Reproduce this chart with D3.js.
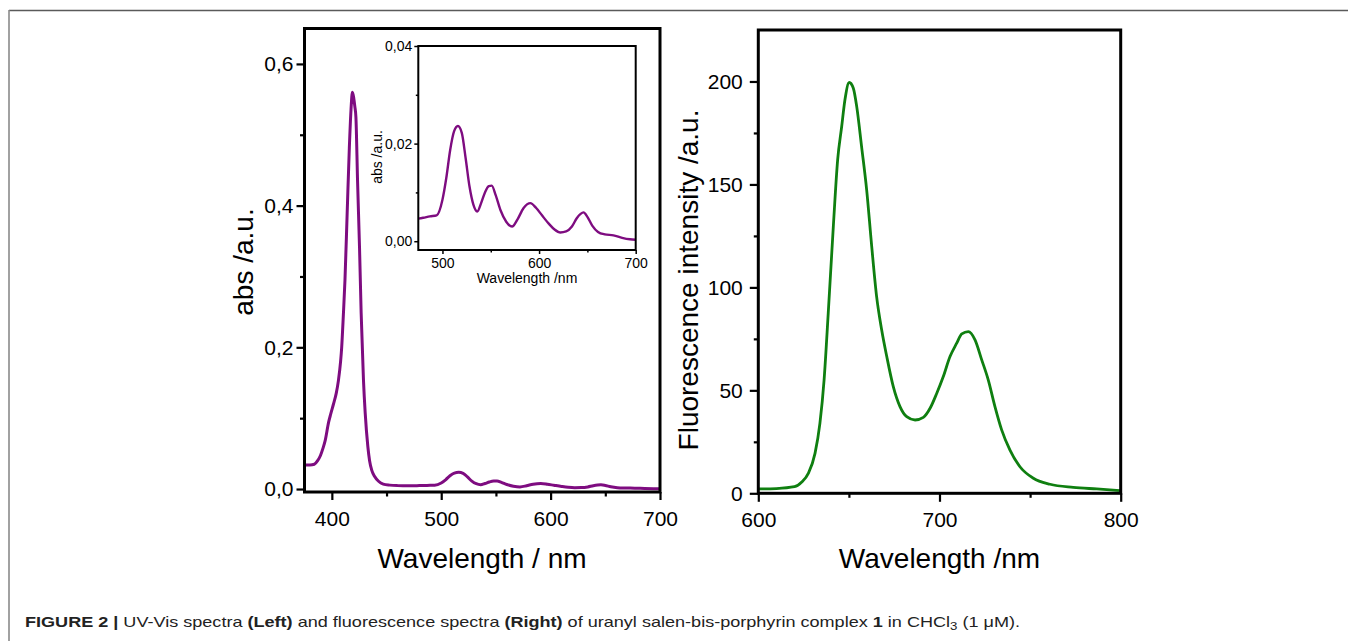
<!DOCTYPE html>
<html><head><meta charset="utf-8">
<script src="https://cdn.jsdelivr.net/npm/d3@7/dist/d3.min.js"></script>
<style>
body{margin:0;background:#fff;}
svg{display:block;font-family:"Liberation Sans",Arial,Helvetica,sans-serif;}
</style>
</head><body>
<svg id="c" width="1348" height="641"></svg>
<script>
// ---------- data ----------
const uvNm  = [375,380,384,387,389.5,392,394,397,399,401.5,404,406,408,409,410.5,412,414,416,417.5,418.8,420,421,422,423.5,425.3,426.8,428.9,430.5,432.9,434.5,436.6,439,442.7,447,453,460,470,480,487,494,500,504,508,512,516,520,524,528,532,536,540,544,548,551,555,560,566,572,578,584,591,597,603,610,616,622,628,634,639,643,646,650,655,661,668,677,686,694,700];
const uvAbs = [0.034,0.034,0.035,0.040,0.047,0.058,0.069,0.094,0.106,0.120,0.135,0.153,0.180,0.200,0.245,0.295,0.389,0.482,0.535,0.560,0.552,0.540,0.525,0.435,0.341,0.248,0.154,0.107,0.060,0.040,0.026,0.018,0.011,0.007,0.0055,0.0048,0.0045,0.0048,0.0051,0.0053,0.0085,0.013,0.0187,0.0225,0.0236,0.0222,0.017,0.0112,0.0075,0.0061,0.0078,0.0100,0.0113,0.0114,0.0095,0.0064,0.0040,0.0030,0.0046,0.0068,0.0078,0.0068,0.0053,0.0036,0.0024,0.0018,0.0020,0.0030,0.0047,0.0056,0.0059,0.0050,0.0032,0.0019,0.0014,0.0012,0.0007,0.0004,0.0003];

const flNm  = [600,610,620,624,627.6,631.3,634,636.3,638.6,641.4,643.8,646,647.8,650.2,652.4,654.3,657,659.8,662.6,665.3,668.1,670.9,674.5,678.2,681.9,686.5,691.1,694.8,698.5,702.1,705.8,709.5,712.3,715.9,719.6,723.3,726.9,730.6,734.3,738.9,744.4,751.8,761,773.8,786.8,800];
const flInt = [2.1,2.3,3.2,5.5,9.7,19.4,34,55,87.5,129.5,162,178,191,199.5,196.8,187.9,168.4,147.4,119.8,95.5,79.3,66.4,51.8,42.1,37.2,35.6,36.9,41.3,48.6,56.7,66.4,72.9,77.4,78.5,74.5,64.8,55.1,42.1,30.8,21.0,12.9,7.3,4.4,2.9,2.1,1.3];

const uvXTicks = [400,500,600,700], uvXMinor = [450,550,650];
const uvYTicks = [0,0.2,0.4,0.6], uvYLabels = ["0,0","0,2","0,4","0,6"], uvYMinor = [0.1,0.3,0.5];
const inXTicks = [500,600,700], inXMinor = [550,650];
const inYTicks = [0,0.02,0.04], inYLabels = ["0,00","0,02","0,04"], inYMinor = [0.01,0.03];
const flXTicks = [600,700,800], flXMinor = [650,750];
const flYTicks = [0,50,100,150,200], flYMinor = [25,75,125,175];

const uvTitleX = "Wavelength / nm", uvTitleY = "abs /a.u.";
const inTitleX = "Wavelength /nm", inTitleY = "abs /a.u.";
const flTitleX = "Wavelength /nm", flTitleY = "Fluorescence intensity /a.u.";

// ---------- drawing ----------
const svg = d3.select("#c");
svg.append("rect").attr("width",1348).attr("height",641).attr("fill","#fff");
// figure frame
svg.append("line").attr("x1",9).attr("x2",1348).attr("y1",10.5).attr("y2",10.5).attr("stroke","#5a5a5a").attr("stroke-width",1.6);
svg.append("line").attr("x1",9).attr("x2",9).attr("y1",10).attr("y2",641).attr("stroke","#8a8a8a").attr("stroke-width",1.6);

function panel(o){
  const g = svg.append("g");
  const x = d3.scaleLinear().domain(o.xd).range([o.l,o.r]);
  const y = d3.scaleLinear().domain(o.yd).range([o.b,o.t]);
  const style = sel => { sel.select(".domain").remove(); sel.selectAll("line").attr("stroke","#000").attr("stroke-width",o.tw);
    sel.selectAll("text").attr("fill","#000").style("font-size",o.fs+"px").style("font-family","inherit"); };
  // minor ticks
  g.append("g").attr("transform",`translate(0,${o.b})`).call(d3.axisBottom(x).tickValues(o.xMinor).tickSize(o.mt).tickSizeOuter(0).tickFormat("")).call(style);
  g.append("g").attr("transform",`translate(${o.l},0)`).call(d3.axisLeft(y).tickValues(o.yMinor).tickSize(o.mt).tickSizeOuter(0).tickFormat("")).call(style);
  // major ticks
  g.append("g").attr("transform",`translate(0,${o.b})`).call(d3.axisBottom(x).tickValues(o.xTicks).tickSize(o.Mt).tickSizeOuter(0).tickPadding(o.xp).tickFormat(d3.format("d"))).call(style);
  g.append("g").attr("transform",`translate(${o.l},0)`).call(d3.axisLeft(y).tickValues(o.yTicks).tickSize(o.Mt).tickSizeOuter(0).tickPadding(o.yp).tickFormat((d,i)=>o.yLabels[i])).call(style);
  // clip + curve
  const cid = "clip"+o.id;
  svg.append("clipPath").attr("id",cid).append("rect").attr("x",o.l).attr("y",o.t).attr("width",o.r-o.l).attr("height",o.b-o.t);
  const pts = o.xs.map((v,i)=>[v,o.ys[i]]).filter(p=>p[0]>=o.xd[0]-6 && p[0]<=o.xd[1]+6);
  g.append("path").datum(pts).attr("clip-path",`url(#${cid})`)
   .attr("d",d3.line().x(d=>x(d[0])).y(d=>y(d[1])).curve(d3.curveMonotoneX))
   .attr("fill","none").attr("stroke",o.color).attr("stroke-width",o.lw).attr("stroke-linejoin","round");
  // box
  g.append("rect").attr("x",o.l).attr("y",o.t).attr("width",o.r-o.l).attr("height",o.b-o.t)
   .attr("fill","none").attr("stroke","#000").attr("stroke-width",o.bw);
  // titles
  g.append("text").attr("x",o.txx).attr("y",o.txy).attr("text-anchor","middle").style("font-size",o.tfs+"px").text(o.titleX);
  g.append("text").attr("transform",`translate(${o.tyx},${o.tyy}) rotate(-90)`).attr("text-anchor","middle").style("font-size",o.tfs+"px").text(o.titleY);
  return g;
}

// Left: UV-Vis
panel({id:"uv", l:304.5,r:660,t:28.5,b:492, xd:[375,700], yd:[-0.0042,0.65],
  xTicks:uvXTicks,xMinor:uvXMinor,yTicks:uvYTicks,yLabels:uvYLabels,yMinor:uvYMinor,
  Mt:8,mt:4.5,tw:2.2,xp:11,yp:3,fs:21,bw:3,lw:3,color:"#7e0c80",
  xs:uvNm,ys:uvAbs,titleX:uvTitleX,titleY:uvTitleY,tfs:28,txx:482,txy:568,tyx:253,tyy:262});

// Inset (same absorption data, Q-band region)
svg.append("rect").attr("x",419).attr("y",46).attr("width",216).attr("height",204).attr("fill","#fff");
panel({id:"in", l:418.3,r:635.7,t:46,b:250, xd:[475,700], yd:[-0.0018,0.04],
  xTicks:inXTicks,xMinor:inXMinor,yTicks:inYTicks,yLabels:inYLabels,yMinor:inYMinor,
  Mt:4,mt:2.5,tw:1.5,xp:4.5,yp:2,fs:14,bw:2,lw:2.4,color:"#7e0c80",
  xs:uvNm,ys:uvAbs,titleX:inTitleX,titleY:inTitleY,tfs:14,txx:527,txy:283,tyx:381.5,tyy:157});

// Right: fluorescence
panel({id:"fl", l:758.3,r:1120.7,t:30,b:493.3, xd:[600,800], yd:[0,225],
  xTicks:flXTicks,xMinor:flXMinor,yTicks:flYTicks,yLabels:flYTicks.map(String),yMinor:flYMinor,
  Mt:8.5,mt:4.5,tw:2.2,xp:10.5,yp:7,fs:21,bw:3,lw:2.8,color:"#0f7f10",
  xs:flNm,ys:flInt,titleX:flTitleX,titleY:flTitleY,tfs:28,txx:939.5,txy:568,tyx:698,tyy:280});

// caption
const cap = svg.append("text").attr("x",25).attr("y",627).attr("fill","#222")
  .style("font-family","'Liberation Sans Narrow','Arial Narrow','Liberation Sans',Arial,sans-serif").style("font-size","15px")
  .attr("textLength",995).attr("lengthAdjust","spacingAndGlyphs");
cap.append("tspan").style("font-weight","bold").text("FIGURE 2 | ");
cap.append("tspan").text("UV-Vis spectra ");
cap.append("tspan").style("font-weight","bold").text("(Left)");
cap.append("tspan").text(" and fluorescence spectra ");
cap.append("tspan").style("font-weight","bold").text("(Right)");
cap.append("tspan").text(" of uranyl salen-bis-porphyrin complex ");
cap.append("tspan").style("font-weight","bold").text("1");
cap.append("tspan").text(" in CHCl");
cap.append("tspan").attr("dy",3).style("font-size","11px").text("3");
cap.append("tspan").attr("dy",-3).text(" (1 \u03bcM).");
</script>
</body></html>
